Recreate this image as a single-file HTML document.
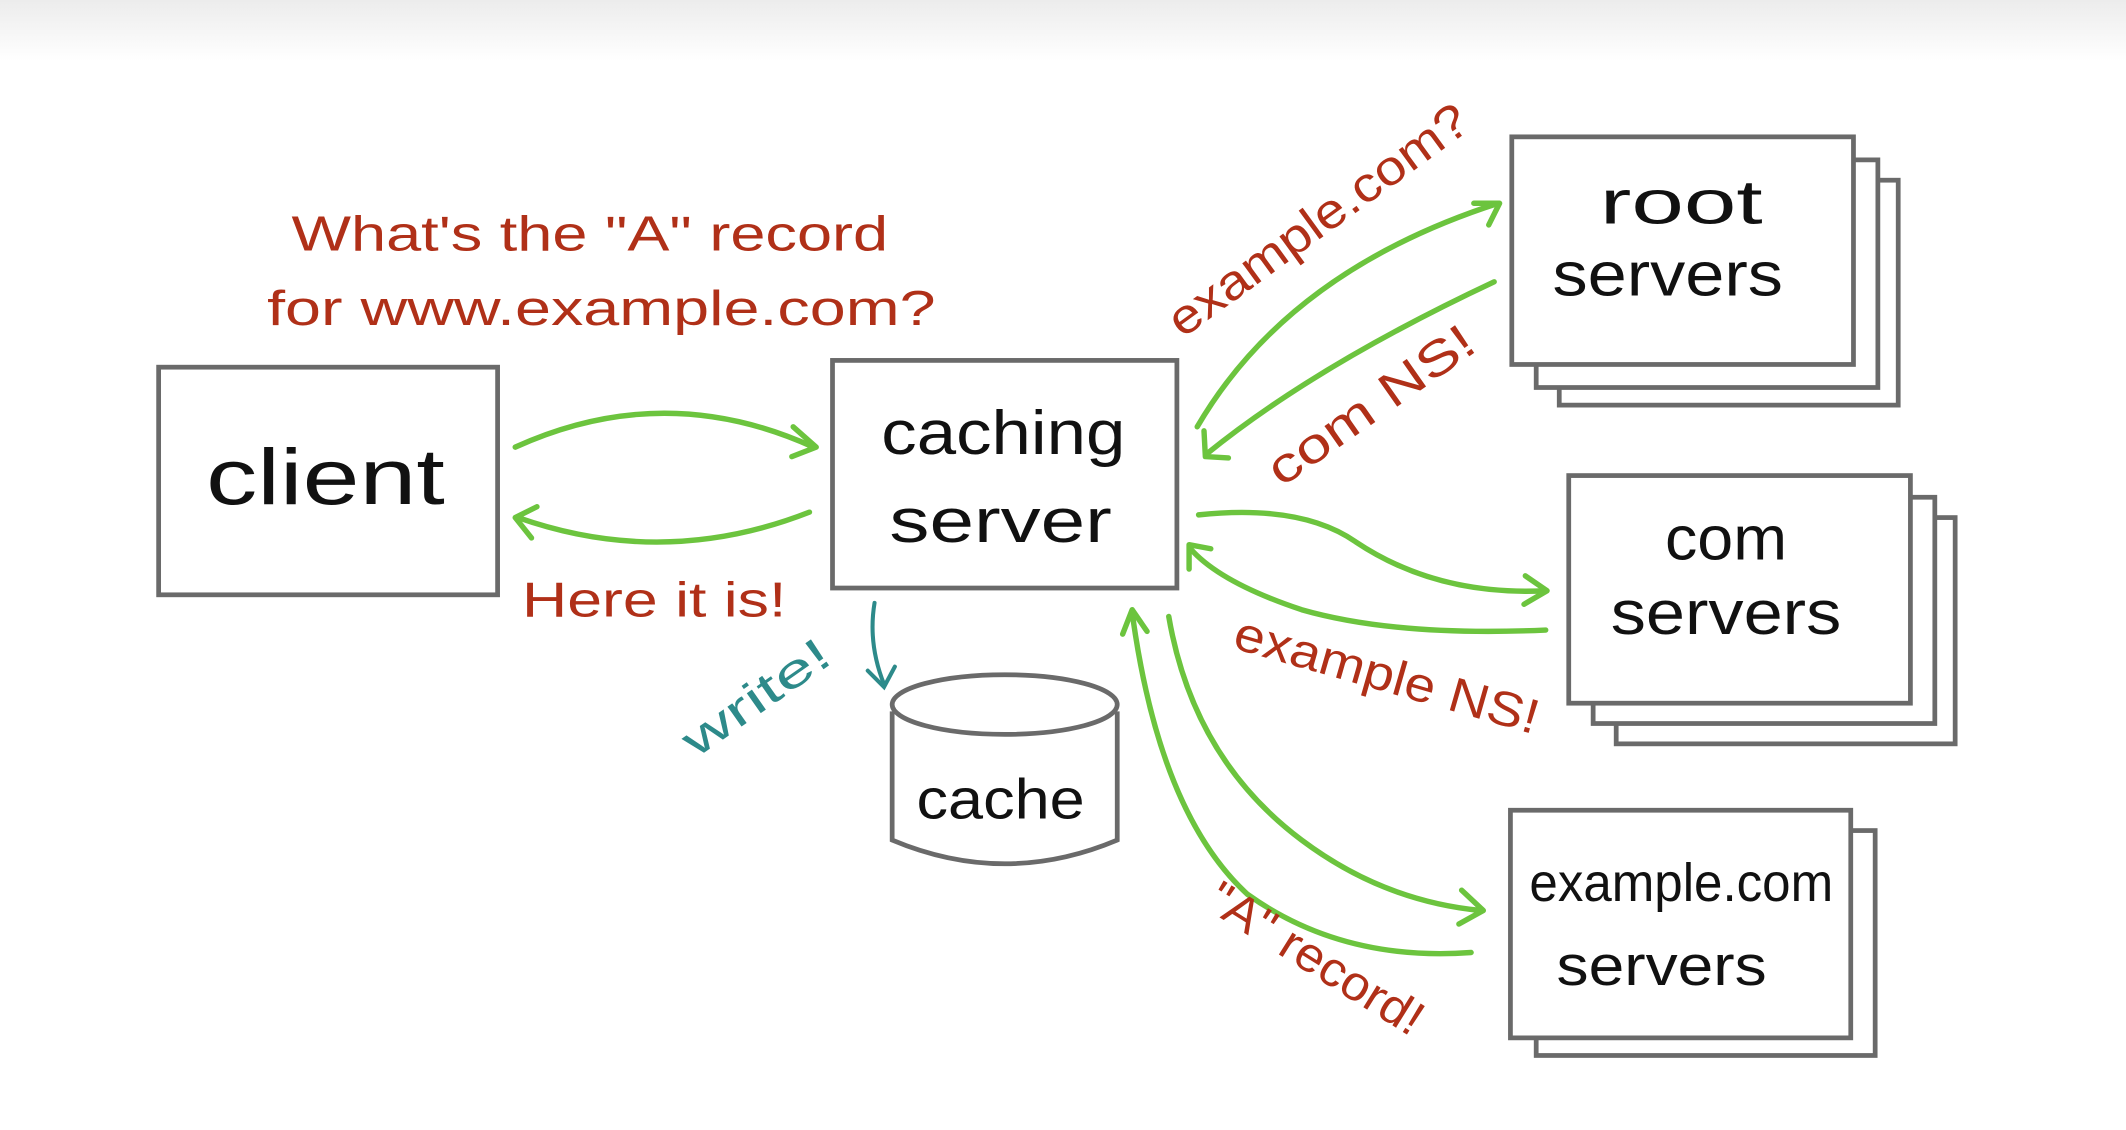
<!DOCTYPE html>
<html><head><meta charset="utf-8"><style>
html,body{margin:0;padding:0;background:#fff;}
svg{display:block;}
text{font-family:"Liberation Sans",sans-serif;}
</style></head><body>
<svg width="2126" height="1130" viewBox="0 0 1568 834" preserveAspectRatio="none" xmlns="http://www.w3.org/2000/svg">
<defs>
<linearGradient id="top" x1="0" y1="0" x2="0" y2="1"><stop offset="0" stop-color="#ececec"/><stop offset="1" stop-color="#fff"/></linearGradient>
</defs>
<rect x="0" y="0" width="1568" height="834" fill="#fff"/>
<rect x="0" y="0" width="1568" height="45" fill="url(#top)"/>
<g fill="#fff" stroke="#6a6a6a" stroke-width="3.5">
<rect x="1150" y="133" width="250" height="166"/>
<rect x="1133" y="118" width="252" height="168"/>
<rect x="1115" y="101" width="252" height="168"/>
<rect x="1192" y="382" width="250" height="167"/>
<rect x="1175" y="367" width="252" height="167"/>
<rect x="1157" y="351" width="252" height="168"/>
<rect x="1133" y="613" width="250" height="166"/>
<rect x="1114" y="598" width="251" height="168"/>
<rect x="117" y="271" width="250" height="168"/>
<rect x="614" y="266" width="254" height="168"/>
<path d="M658 525 L658 620 Q741 655 824 620 L824 525"/>
<ellipse cx="741" cy="520" rx="83" ry="22"/>
</g>
<g fill="#111" font-size="46" lengthAdjust="spacingAndGlyphs">
<text x="152" y="372" font-size="58" textLength="176" lengthAdjust="spacingAndGlyphs">client</text>
<text x="650" y="335" textLength="180" lengthAdjust="spacingAndGlyphs">caching</text>
<text x="656" y="400" textLength="164" lengthAdjust="spacingAndGlyphs">server</text>
<text x="676" y="604" font-size="42" textLength="124" lengthAdjust="spacingAndGlyphs">cache</text>
<text x="1180" y="165" textLength="120" lengthAdjust="spacingAndGlyphs">root</text>
<text x="1145" y="218" textLength="170" lengthAdjust="spacingAndGlyphs">servers</text>
<text x="1228" y="413" textLength="90" lengthAdjust="spacingAndGlyphs">com</text>
<text x="1188" y="468" textLength="170" lengthAdjust="spacingAndGlyphs">servers</text>
<text x="1128" y="665" font-size="40" textLength="224" lengthAdjust="spacingAndGlyphs">example.com</text>
<text x="1148" y="727" font-size="42" textLength="155" lengthAdjust="spacingAndGlyphs">servers</text>
</g>
<g fill="none" stroke="#6cc43e" stroke-width="4" stroke-linecap="round" stroke-linejoin="round">
<path d="M380 330 Q490 280 600 330"/><path d="M585 315 L602 330 L584 337"/>
<path d="M597 378 Q490 420 382 382"/><path d="M396 374 L380 382 L392 397"/>
<path d="M883 315 Q950 200 1105 150"/><path d="M1087 150 L1106 150 L1098 166"/>
<path d="M1102 208 Q970 270 890 335"/><path d="M888 318 L889 337 L906 338"/>
<path d="M884 380 Q960 372 1000 400 Q1060 440 1140 436"/><path d="M1125 425 L1141 436 L1124 446"/>
<path d="M1140 465 Q1030 470 960 450 Q900 430 878 405"/><path d="M877 420 L877 402 L893 405"/>
<path d="M862 455 Q880 560 960 620 Q1020 665 1092 672"/><path d="M1078 657 L1094 672 L1076 682"/>
<path d="M1085 703 Q990 710 920 660 Q855 600 835 452"/><path d="M828 468 L835 450 L846 466"/>
</g>
<g fill="none" stroke="#2d8a8a" stroke-width="3" stroke-linecap="round">
<path d="M645 445 Q640 475 652 505"/><path d="M640 495 L652 507 L660 492"/>
</g>
<g fill="#b03018" font-size="36">
<text x="215" y="185" textLength="440" lengthAdjust="spacingAndGlyphs">What's the "A" record</text>
<text x="197" y="240" textLength="493" lengthAdjust="spacingAndGlyphs">for www.example.com?</text>
<text x="385" y="455" textLength="195" lengthAdjust="spacingAndGlyphs">Here it is!</text>
<text transform="translate(872,250) rotate(-36)" textLength="265" lengthAdjust="spacingAndGlyphs">example.com?</text>
<text transform="translate(945,360) rotate(-35)" textLength="178" lengthAdjust="spacingAndGlyphs">com NS!</text>
<text transform="translate(908,478) rotate(16)" textLength="232" lengthAdjust="spacingAndGlyphs">example NS!</text>
<text transform="translate(888,670) rotate(32)" textLength="180" lengthAdjust="spacingAndGlyphs">"A" record!</text>
</g>
<text transform="translate(513,560) rotate(-35)" fill="#2d8a8a" font-size="34" textLength="125" lengthAdjust="spacingAndGlyphs">write!</text>
</svg>
</body></html>
